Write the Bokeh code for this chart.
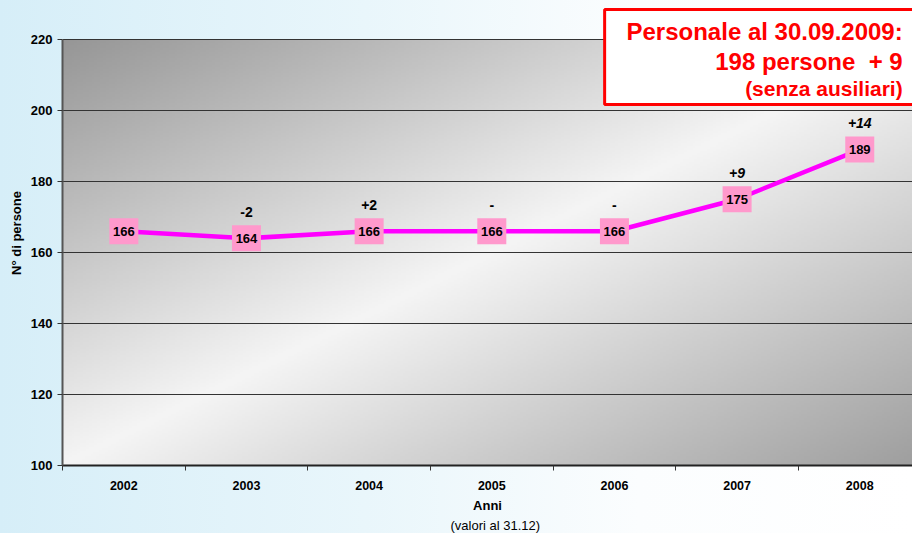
import numpy as np
from bokeh.plotting import figure
from bokeh.models import FixedTicker, Title
from bokeh.core.properties import value
from bokeh.embed import file_html
from bokeh.resources import INLINE

# ---- data ----
years = ["2002", "2003", "2004", "2005", "2006", "2007", "2008"]
staff = [166, 164, 166, 166, 166, 175, 189]
deltas = ["", "-2", "+2", "-", "-", "+9", "+14"]
delta_italic = [False, False, False, False, False, True, True]
y_ticks = [100, 120, 140, 160, 180, 200, 220]
title_lines = ["Personale al 30.09.2009:", "198 persone\u00a0 + 9", "(senza ausiliari)"]

FONT = "Liberation Sans"
xs = list(range(len(years)))

p = figure(width=912, height=533, output_backend="svg", toolbar_location=None,
           x_range=(-0.5, 6.43), y_range=(100, 230.99),
           min_border_left=62, min_border_right=0, min_border_top=0, min_border_bottom=68)
p.border_fill_color = None
p.background_fill_color = None
p.outline_line_color = None
p.styles = {"background": "linear-gradient(90deg, #d6eef8 0%, #e9f6fb 40%, #fbfdfe 70%, #ffffff 100%)"}

# ---- plot-area gradient (decoration) ----
H, W = 200, 300
ny_top = np.linspace(1, 0, H)[:, None]   # row 0 = bottom (y=100)
nx = np.linspace(0, 1, W)[None, :]
u = (nx + ny_top) / 2.0
g = np.where(u < 0.5, 150 + (245 - 150) * (u / 0.5), 245 - (245 - 158) * ((u - 0.5) / 0.5))
g = g.astype(np.uint32)
img = (255 << 24) | (g << 16) | (g << 8) | g
p.image_rgba(image=[img.astype(np.uint32)], x=-0.5, y=100, dw=7, dh=120, level="image")

# ---- axes ----
p.yaxis.ticker = FixedTicker(ticks=y_ticks)
p.yaxis.bounds = (100, 220)
p.yaxis.axis_line_color = "#555555"
p.yaxis.axis_line_width = 2
p.yaxis.major_tick_line_color = "#333333"
p.yaxis.major_tick_out = 5
p.yaxis.major_tick_in = 0
p.yaxis.minor_tick_line_color = None
p.yaxis.major_label_standoff = 5
p.yaxis.major_label_text_font = FONT
p.yaxis.major_label_text_font_style = "bold"
p.yaxis.major_label_text_font_size = "13px"
p.yaxis.major_label_text_color = "#000000"
p.yaxis.axis_label = "N° di persone"
p.yaxis.axis_label_text_font = FONT
p.yaxis.axis_label_text_font_style = "bold"
p.yaxis.axis_label_text_font_size = "13px"
p.yaxis.axis_label_text_color = "#000000"
p.yaxis.axis_label_standoff = 4

p.xaxis.ticker = FixedTicker(ticks=xs, minor_ticks=[i - 0.5 for i in xs] + [6.5])
p.xaxis.major_label_overrides = {i: y for i, y in zip(xs, years)}
p.xaxis.bounds = (-0.5, 6.5)
p.xaxis.axis_line_color = "#222222"
p.xaxis.axis_line_width = 2
p.xaxis.major_tick_line_color = None
p.xaxis.major_tick_out = 5
p.xaxis.major_tick_in = 0
p.xaxis.minor_tick_line_color = "#333333"
p.xaxis.minor_tick_out = 5
p.xaxis.minor_tick_in = 0
p.xaxis.major_label_standoff = 10
p.xaxis.major_label_text_font = FONT
p.xaxis.major_label_text_font_style = "bold"
p.xaxis.major_label_text_font_size = "12.5px"
p.xaxis.major_label_text_color = "#000000"
p.xaxis.axis_label = "Anni"
p.xaxis.axis_label_text_font = FONT
p.xaxis.axis_label_text_font_style = "bold"
p.xaxis.axis_label_text_font_size = "13px"
p.xaxis.axis_label_text_color = "#000000"
p.xaxis.axis_label_standoff = 5

p.add_layout(Title(text="(valori al 31.12)", align="left", text_font=FONT,
                   text_font_style="normal", text_font_size="13px", text_color="#000000",
                   offset=388, standoff=0), "below")

p.xgrid.grid_line_color = None
p.ygrid.ticker = FixedTicker(ticks=y_ticks)
p.ygrid.grid_line_color = "#333333"
p.ygrid.grid_line_width = 1

# ---- line and labels ----
p.line(xs, staff, line_color="#FF00FF", line_width=4.5)
p.rect(xs, staff, width=29, height=26, width_units="screen", height_units="screen",
       fill_color="#FF99CC", line_color=None)
p.text(xs, staff, text=[str(v) for v in staff], text_font=value(FONT), text_font_style="bold",
       text_font_size="13px", text_align="center", text_baseline="middle", text_color="#000000")

for i, (d, it) in enumerate(zip(deltas, delta_italic)):
    if not d:
        continue
    p.text([xs[i]], [staff[i] + 7.5], text=[d], text_font=value(FONT),
           text_font_style="bold italic" if it else "bold",
           text_font_size="14px", text_align="center", text_baseline="middle", text_color="#000000")

# ---- title box ----
p.quad(left=[3.92], right=[7.5], bottom=[201.7], top=[228.45],
       fill_color="#FFFFFF", line_color="#FF0000", line_width=3)
p.text([6.35] * 3, [222.2, 213.8, 206.2], text=title_lines, text_font=value(FONT),
       text_font_style="bold", text_font_size=["24px", "24px", "21px"],
       text_align="right", text_baseline="middle", text_color="#FF0000")

open("out.html", "w").write(file_html(p, INLINE))
